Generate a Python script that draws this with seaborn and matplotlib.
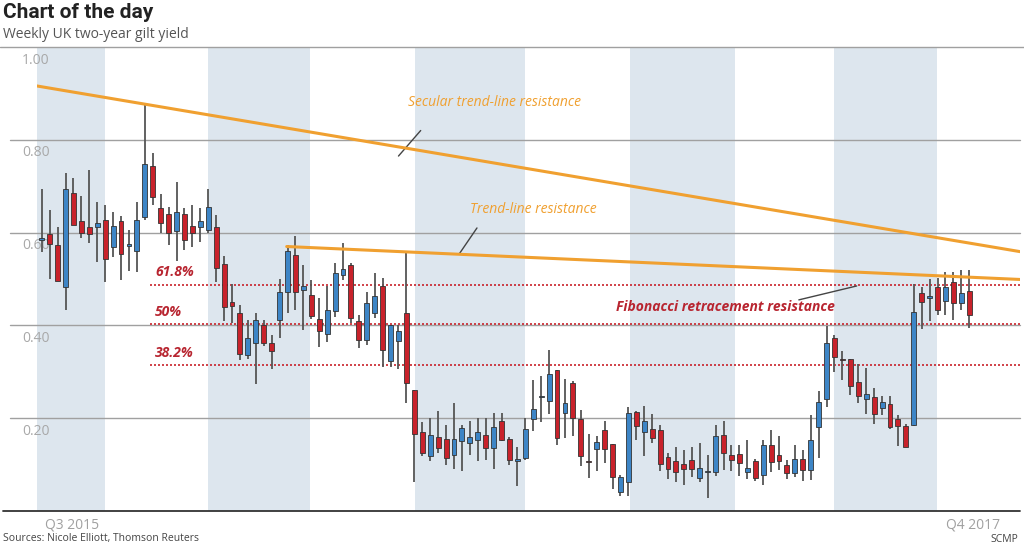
import numpy as np
import pandas as pd
import matplotlib
matplotlib.use("Agg")
import matplotlib.pyplot as plt
import matplotlib.transforms as mtransforms
import seaborn as sns

opens = [.585,.597,.573,.482,.686,.626,.611,.611,.628,.568,.626,.572,.561,.633,.744,.652,.641,.604,.64,.614,
         .613,.606,.611,.532,.45,.427,.337,.362,.4,.363,.411,.473,.552,.477,.466,.413,.382,.43,.509,.53,
         .41,.369,.426,.485,.323,.367,.426,.261,.17,.118,.159,.155,.12,.15,.146,.153,.164,.135,.194,.155,
         .108,.114,.199,.245,.236,.304,.211,.276,.199,.107,.134,.174,.145,.041,.062,.214,.171,.177,.174,.117,
         .108,.102,.109,.071,.083,.084,.164,.12,.123,.084,.108,.078,.142,.12,.1,.082,.112,.088,.182,.241,
         .373,.328,.327,.278,.241,.245,.221,.23,.199,.183,.186,.47,.46,.482,.453,.494,.449,.475]
closes = [.588,.575,.496,.694,.616,.600,.597,.621,.543,.615,.554,.573,.627,.747,.676,.62,.6,.644,.584,.6,
          .624,.656,.524,.44,.441,.339,.372,.411,.363,.345,.473,.561,.473,.484,.42,.387,.433,.514,.521,.415,
          .369,.448,.464,.347,.401,.389,.275,.166,.125,.163,.135,.114,.155,.178,.159,.171,.135,.181,.152,.109,
          .112,.177,.219,.247,.295,.157,.233,.2,.119,.105,.148,.134,.073,.073,.211,.184,.194,.158,.101,.09,
          .084,.09,.09,.093,.083,.162,.125,.11,.103,.093,.071,.142,.105,.108,.081,.112,.088,.154,.234,.362,
          .332,.325,.269,.248,.253,.21,.234,.18,.183,.138,.428,.45,.463,.433,.482,.449,.469,.423]
highs = [.694,.649,.611,.729,.717,.678,.735,.665,.66,.645,.636,.605,.665,.879,.771,.683,.656,.71,.652,.659,
         .652,.693,.637,.55,.49,.444,.411,.427,.411,.379,.499,.573,.592,.53,.498,.459,.484,.534,.577,.535,
         .423,.473,.512,.502,.401,.401,.555,.261,.191,.2,.215,.185,.232,.185,.195,.2,.2,.211,.211,.16,
         .139,.2,.282,.29,.347,.304,.285,.28,.217,.167,.162,.194,.145,.078,.225,.216,.226,.208,.186,.125,
         .137,.132,.137,.147,.121,.186,.194,.142,.142,.154,.112,.154,.174,.162,.11,.142,.132,.206,.258,.398,
         .38,.345,.328,.317,.308,.265,.248,.247,.206,.188,.489,.482,.5,.502,.515,.515,.519,.519]
lows = [.559,.501,.496,.433,.616,.588,.578,.537,.494,.548,.498,.518,.515,.627,.66,.6,.573,.539,.562,.568,
        .58,.6,.494,.41,.406,.325,.327,.274,.355,.307,.372,.426,.433,.39,.413,.353,.365,.418,.498,.406,
        .351,.357,.415,.311,.311,.306,.232,.063,.118,.107,.125,.1,.091,.086,.121,.107,.11,.091,.15,.1,
        .053,.11,.173,.191,.21,.142,.157,.162,.098,.071,.086,.103,.047,.032,.032,.152,.118,.147,.086,.068,
        .062,.056,.073,.062,.029,.075,.088,.087,.075,.07,.064,.056,.084,.088,.07,.073,.064,.066,.114,.225,
        .299,.282,.251,.232,.21,.188,.206,.177,.14,.138,.183,.393,.41,.423,.423,.411,.433,.395]

fib_levels = [0.488, 0.402, 0.314]
fib_labels = ["61.8%", "50%", "38.2%"]
secular_x = [-0.6, 123.4]; secular_y = [0.916, 0.559]
trend_x = [30.9, 123.4]; trend_y = [0.570, 0.499]
band_starts = [-0.6, 21.0, 47.1, 74.2, 100.0]
band_ends = [8.0, 33.9, 60.9, 87.4, 112.9]
quarter_ticks = [-0.6, 8.0, 21.0, 33.9, 47.1, 60.9, 74.2, 87.4, 100.0, 112.9, 123.4]
yticks = [0.2, 0.4, 0.6, 0.8, 1.0]

sns.set_theme(style="white")
plt.rcParams['font.family'] = ['Open Sans', 'DejaVu Sans']

fig = plt.figure(figsize=(10.24, 5.47), dpi=100)
ax = fig.add_axes([37/1024, 36/547, 983/1024, 464/547])
ax.set_xlim(-0.6, 123.4)
ax.set_ylim(0, 1.0)

for s, e in zip(band_starts, band_ends):
    ax.axvspan(s, e, color="#dde6ee", lw=0, zorder=0)

blend = mtransforms.blended_transform_factory(fig.transFigure, ax.transData)
for y in yticks:
    x0 = 0.0 if y == 1.0 else 10/1024
    x1 = 1.0 if y == 1.0 else 1020/1024
    ax.plot([x0, x1], [y, y], transform=blend, color="#a0a0a0", lw=1, zorder=1, clip_on=False)
    ax.text(22/1024, y - 0.012, f"{y:.2f}", transform=blend, ha="left", va="top",
            fontsize=10, color="#a8a8a8")

df = pd.DataFrame({"o": opens, "c": closes, "h": highs, "l": lows})
df["x"] = np.arange(len(df))
ax.vlines(df["x"], df["l"], df["h"], color="#555555", lw=1.3, zorder=3)
up = df["c"] >= df["o"]
colors = np.where(up, "#3d85c6", "#c8222b")
bottom = np.minimum(df["o"], df["c"])
height = np.maximum(np.abs(df["c"] - df["o"]), 0.003)
ax.bar(df["x"], height, bottom=bottom, width=0.62, color=colors, edgecolor="#333333", lw=0.6, zorder=4)

for lv, lb in zip(fib_levels, fib_labels):
    ax.plot([13.7, 123.4], [lv, lv], color="#c8222b", lw=1.2, ls=(0, (1.2, 1.2)), zorder=2)
    ax.text(14.3, lv + 0.012, lb, color="#b82530", fontsize=10, fontstyle="italic",
            fontweight="bold", ha="left", va="bottom", zorder=5)

sns.lineplot(x=secular_x, y=secular_y, ax=ax, color="#f0a030", lw=2.2, zorder=5)
sns.lineplot(x=trend_x, y=trend_y, ax=ax, color="#f0a030", lw=2.2, zorder=5)

ax.plot([45.0, 47.8], [0.765, 0.82], color="#444444", lw=1)
ax.text(46.2, 0.88, "Secular trend-line resistance", color="#f0a030", fontsize=10,
        fontstyle="italic", ha="left", va="center")
ax.plot([52.7, 54.9], [0.555, 0.61], color="#444444", lw=1)
ax.text(54.0, 0.65, "Trend-line resistance", color="#f0a030", fontsize=10,
        fontstyle="italic", ha="left", va="center")
ax.plot([95.5, 102.8], [0.455, 0.485], color="#444444", lw=1)
ax.text(72.5, 0.44, "Fibonacci retracement resistance", color="#b82530", fontsize=10,
        fontstyle="italic", fontweight="bold", ha="left", va="center")

for sp in ["top", "right", "left", "bottom"]:
    ax.spines[sp].set_visible(False)
ax.plot([3/1024, 1020/1024], [0, 0], transform=blend, color="#333333", lw=1.3, clip_on=False)
ax.set_xticks(quarter_ticks)
ax.set_xticklabels([])
ax.tick_params(axis="x", length=4, color="#888888", direction="in", pad=2)
ax.set_yticks([])
ax.text(-0.6 + 1.0, -0.015, "Q3 2015", ha="left", va="top", fontsize=10, color="#a0a0a0")
ax.text(123.4 - 2.5, -0.015, "Q4 2017", ha="right", va="top", fontsize=10, color="#a0a0a0")

fig.text(3/1024, 1 - 12/547, "Chart of the day", fontsize=15, fontweight="bold",
         color="#222222", va="center", ha="left", family=["Roboto", "DejaVu Sans"])
fig.text(3/1024, 1 - 35/547, "Weekly UK two-year gilt yield", fontsize=10, color="#555555",
         va="center", ha="left")
fig.text(3/1024, 1 - 539/547, "Sources: Nicole Elliott, Thomson Reuters", fontsize=7.5,
         color="#444444", va="center", ha="left")
fig.text(1018/1024, 1 - 539/547, "SCMP", fontsize=7.5, color="#444444", va="center", ha="right")

fig.savefig("out.png", dpi=100, facecolor="white")
